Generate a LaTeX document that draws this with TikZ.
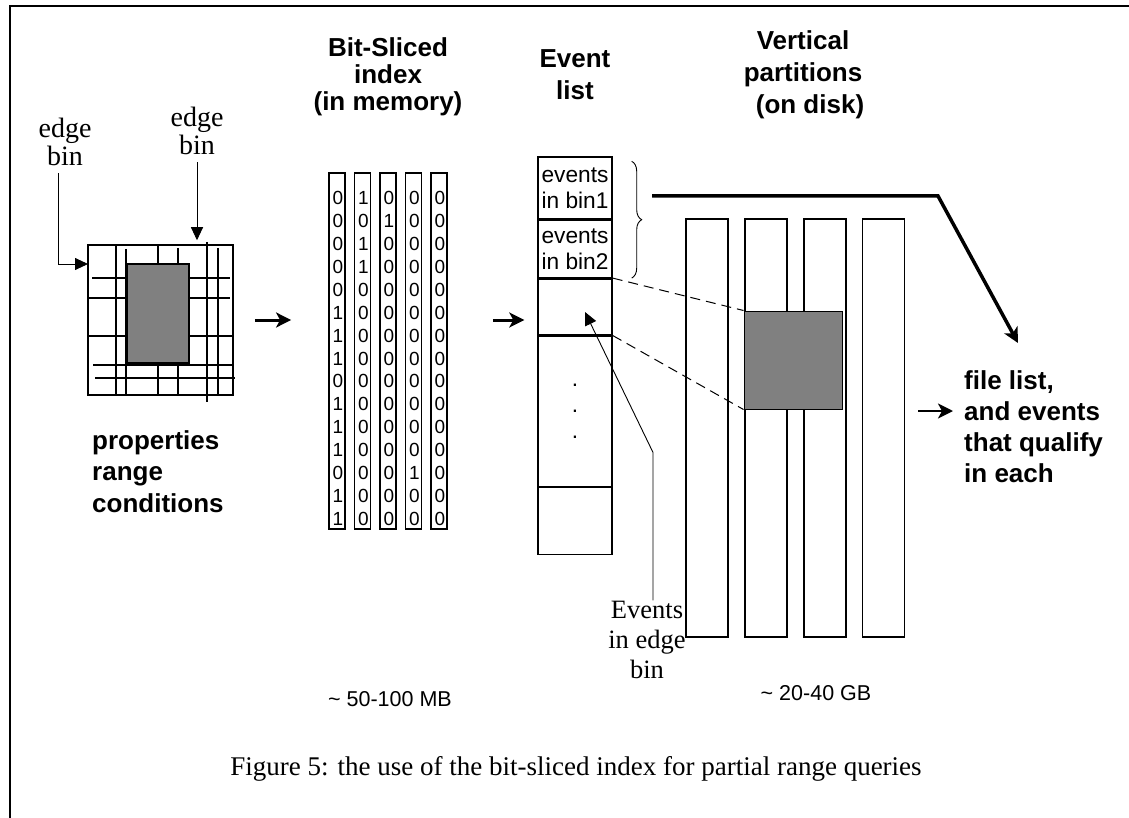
\documentclass[tikz,border=0pt]{standalone}
\usepackage{fontspec}
\setmainfont{Liberation Serif}
\setsansfont{Liberation Sans}
\usetikzlibrary{arrows.meta,positioning,decorations.pathreplacing}

\tikzset{
  ttl/.style={font=\fontsize{26}{32}\selectfont\sffamily\bfseries,align=center,inner sep=0pt},
  slice/.style={draw,line width=1.8pt,minimum width=16pt,minimum height=356pt,inner sep=0pt},
  bit/.style={font=\fontsize{19}{19}\selectfont\sffamily,inner sep=0pt},
  cell/.style={draw,line width=1.4pt,minimum width=74pt,inner sep=0pt,font=\fontsize{22.7}{26}\selectfont\sffamily,align=center},
  part/.style={draw,line width=1.4pt,minimum width=42pt,minimum height=418pt,inner sep=0pt},
  note/.style={font=\fontsize{28}{28}\selectfont,align=center,inner sep=0pt},
  fat/.style={line width=3pt,-{Stealth[length=15pt,width=15pt,inset=4pt]}},
  ptr/.style={line width=0.9pt,-{Triangle[length=13pt,width=12pt]}},
}

\begin{document}
\begin{tikzpicture}[x=1pt,y=-1pt]
\useasboundingbox (0,0) rectangle (1129,818);
\draw[line width=1.3pt] (10,818) -- (10,6) -- (1129,6);

% range conditions on the grid
\node[draw,line width=1.5pt,minimum width=145pt,minimum height=150pt,inner sep=0pt] (grid) at (160.5,320) {};
\foreach \x/\a/\b in {116/245/395,126/249/395,158/245/395,178/248/395,207/242/402,218/248/395}
  \draw[line width=1.3pt] (\x,\a) -- (\x,\b);
\foreach \y/\a/\b in {278/92/230,298/88/230,336/88/233,365/93/232,378/95/235}
  \draw[line width=1.3pt] (\a,\y) -- (\b,\y);
\node[draw,fill=gray,line width=1.3pt,minimum width=62pt,minimum height=99pt,inner sep=0pt] (sel) at (158,313.5) {};

\node[note,anchor=base] (edgeL) at (65,166) {edge\\bin};
\node[note,anchor=base] (edgeR) at (197,155) {edge\\bin};
\coordinate (gridL) at (88,264);
\draw[ptr,shorten <=7pt] ([xshift=-7pt]edgeL.south) |- (gridL);
\draw[ptr,shorten <=7pt,shorten >=4pt] (edgeR.south) -- (edgeR.south |- grid.north);

\node[ttl,anchor=base west,align=left,font=\fontsize{26}{31.5}\selectfont\sffamily\bfseries] (cond) at (92,512) {properties\\range\\conditions};

% bit slices
\node[ttl,anchor=base,font=\fontsize{26}{27}\selectfont\sffamily\bfseries] (bsi) at (388,111) {Bit-Sliced\\index\\(in memory)};
\foreach \c/\bits in {1/{0,0,0,0,0,1,1,1,0,1,1,1,0,1,1},2/{1,0,1,1,0,0,0,0,0,0,0,0,0,0,0},3/{0,1,0,0,0,0,0,0,0,0,0,0,0,0,0},4/{0,0,0,0,0,0,0,0,0,0,0,0,1,0,0},5/{0,0,0,0,0,0,0,0,0,0,0,0,0,0,0}}{
  \node[slice] (b\c) at ({337+(\c-1)*25.5},351) {};
  \foreach \b [count=\r] in \bits
    \node[bit] (d\c-\r) at ({338+(\c-1)*25.5},{198+(\r-1)*22.93}) {\b};
}
\node[font=\fontsize{21.5}{21.5}\selectfont\sffamily,anchor=base] (mb) at (390,706) {\textasciitilde{} 50-100 MB};

% event list
\node[ttl,anchor=base] (evt) at (575,100) {Event\\list};
\node[cell,minimum height=62pt] (c1) at (575,188) {events\\in bin1};
\node[cell,minimum height=57pt,below=0pt of c1] (c2) {events\\in bin2};
\node[cell,minimum height=56pt,below=0pt of c2] (c3) {};
\node[cell,minimum height=150pt,below=0pt of c3] (c4) {.\\.\\.};
\node[cell,minimum height=67pt,below=0pt of c4] (c5) {};
\draw[decorate,decoration={brace,amplitude=10pt},line width=0.9pt] ([xshift=19pt,yshift=-5pt]c1.north east) -- ([xshift=19pt]c2.south east);

\node[note,font=\fontsize{26.5}{30}\selectfont,anchor=base] (ee) at (647,678) {Events\\in edge\\bin};
\coordinate (eeTip) at (585,312);
\draw[ptr] ([xshift=6pt]ee.north) -- ++(0,-148) -- (eeTip);

% vertical partitions
\node[ttl,anchor=base] (vp) at (803,114) {Vertical\\partitions\\\hspace*{14pt}(on disk)};
\node[part] (p1) at (707,428) {};
\node[part,right=15.5pt of p1] (p2) {};
\node[part,right=15.5pt of p2] (p3) {};
\node[part,right=15.5pt of p3] (p4) {};
\node[draw,fill=gray,line width=1pt,minimum width=98pt,minimum height=98pt,inner sep=0pt] (hit) at (793,360) {};
\draw[line width=1pt,dash pattern=on 10pt off 6pt] (c3.north east) -- (hit.north west);
\draw[line width=1pt,dash pattern=on 10pt off 6pt] (c3.south east) -- (hit.south west);
\node[font=\fontsize{21.5}{21.5}\selectfont\sffamily,anchor=base] (gb) at (816,700) {\textasciitilde{} 20-40 GB};

% result
\node[ttl,anchor=base west,align=left,font=\fontsize{26}{31}\selectfont\sffamily\bfseries] (fl) at (964,482) {file list,\\and events\\that qualify\\in each};
\coordinate (fs) at (652,196);
\coordinate (fe) at (1018,343);
\draw[fat,line width=3.5pt] (fs) -- ++(286,0) -- (fe);
\coordinate (fa) at (918,411);
\draw[fat,line width=2.5pt,shorten >=11pt] (fa) -- (fa -| fl.west);

\draw[fat,shorten <=21pt,shorten >=37pt] (grid.east) -- (grid.east -| b1.west);
\draw[fat,shorten <=45pt,shorten >=13pt] (grid.east -| b5.east) -- (grid.east -| c1.west);

\node[font=\fontsize{27}{27}\selectfont,anchor=base] (cap) at (576,775) {Figure 5: the use of the bit-sliced index for partial range queries};
\end{tikzpicture}
\end{document}
